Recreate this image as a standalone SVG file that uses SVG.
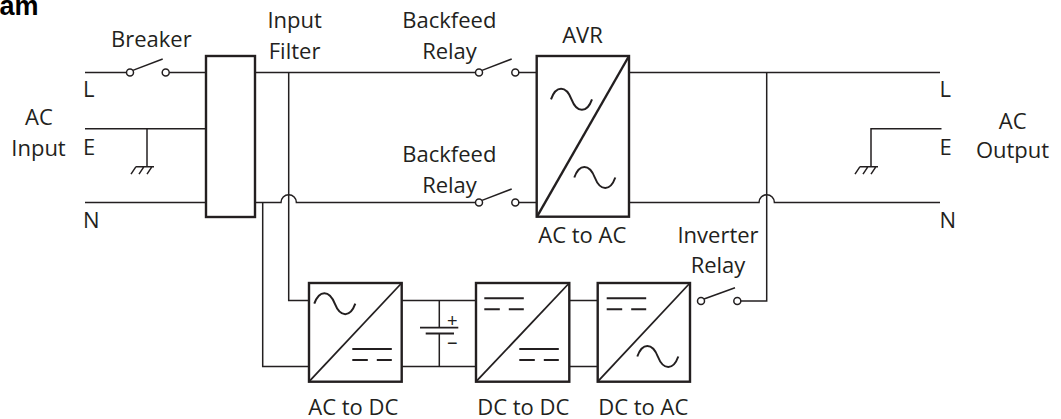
<svg xmlns="http://www.w3.org/2000/svg" width="1061" height="419" viewBox="0 0 1061 419">
<style>
.w{fill:none;stroke:#231f20;stroke-width:1.5}
.box{fill:#fff;stroke:#231f20;stroke-width:2.4}
.diag{fill:none;stroke:#231f20;stroke-width:1.8}
.sym{fill:none;stroke:#231f20;stroke-width:2}
.c{fill:#fff;stroke:#231f20;stroke-width:1.5}
text{font-family:"Open Sans","Noto Sans","Liberation Sans",sans-serif;font-size:22px;fill:#231f20}
.m{text-anchor:middle}
.t{font-family:"Liberation Sans",Arial,sans-serif;font-weight:bold;font-size:27px;fill:#000;text-anchor:end}
.pm{font-family:"Liberation Sans",Arial,sans-serif;font-size:18px;text-anchor:middle}
</style>
<defs>
<path id="sine" d="M0,0 C5,-14 15,-14 20.5,0 C26,14 36,14 41,0"/>
<g id="dc"><path d="M0,0 H39.5 M0,11 H15.5 M24.5,11 H39.5"/></g>
<g id="gnd"><path d="M-11,0 H7 M-11,0 L-16,7.5 M-3,0 L-8,7.5 M5,0 L0,7.5"/></g>
</defs>
<text class="t" x="38.5" y="15">am</text>

<g id="connectors">
<path class="w" d="M85,72.5 H126.5 M169.2,72.5 H206"/>
<path class="w" d="M85,128.7 H206"/>
<path class="w" d="M85,202.5 H206"/>
<path class="w" d="M255,72.5 H475.5 M518.8,72.5 H536.7"/>
<path class="w" d="M255,202.5 H281 A7.7,7.7 0 0 1 296.4,202.5 H475.5 M518.8,202.5 H536.7"/>
<path class="w" d="M288.7,72.5 V300.5 H309"/>
<path class="w" d="M262.7,202.5 V366.5 H309"/>
<path class="w" d="M401.7,300.5 H476 M401.7,366.5 H476"/>
<path class="w" d="M569.3,300.5 H597.7 M569.3,366.5 H597.7"/>
<path class="w" d="M629,72.5 H940"/>
<path class="w" d="M629,202.5 H759 A7.7,7.7 0 0 1 774.4,202.5 H940"/>
<path class="w" d="M941.5,128.7 H871 V166.7"/>
<path class="w" d="M147,128.7 V166.7"/>
<path class="w" d="M740.8,301 H766.7 V72.5"/>
</g>

<g id="ground-in"><use href="#gnd" class="w" x="147" y="166.7"/></g>
<g id="ground-out"><use href="#gnd" class="w" x="871" y="166.7"/></g>

<g id="breaker">
<path class="w" d="M132.8,70.4 L162.7,59"/>
<circle class="c" cx="130" cy="72.5" r="3.5"/>
<circle class="c" cx="165.7" cy="72.5" r="3.5"/>
<text class="m" x="151.3" y="47">Breaker</text>
</g>

<g id="input-filter">
<rect class="box" x="206" y="56" width="49" height="161"/>
<text class="m" x="294.6" y="28.3">Input</text>
<text class="m" x="294.6" y="59.3">Filter</text>
</g>

<g id="backfeed-relay-l">
<path class="w" d="M482,70.4 L511.7,59"/>
<circle class="c" cx="479" cy="72.5" r="3.5"/>
<circle class="c" cx="515.3" cy="72.5" r="3.5"/>
<text class="m" x="449.3" y="28.3">Backfeed</text>
<text class="m" x="449.5" y="59.3">Relay</text>
</g>

<g id="backfeed-relay-n">
<path class="w" d="M482,200.4 L511.7,189"/>
<circle class="c" cx="479" cy="202.5" r="3.5"/>
<circle class="c" cx="515.3" cy="202.5" r="3.5"/>
<text class="m" x="449.3" y="162.3">Backfeed</text>
<text class="m" x="449.5" y="193.3">Relay</text>
</g>

<g id="avr">
<rect class="box" x="536.7" y="56" width="92.3" height="160.7"/>
<path class="w" style="stroke-width:2.4" d="M537,216.7 L629,56"/>
<use href="#sine" class="sym" x="551" y="99.3"/>
<use href="#sine" class="sym" x="574.3" y="177.5"/>
<text class="m" x="582.5" y="43.3">AVR</text>
<text class="m" x="582.3" y="242.7">AC to AC</text>
</g>

<g id="ac-dc">
<rect class="box" x="309" y="283" width="92.7" height="98.7"/>
<path class="diag" d="M309,381.7 L401.7,283"/>
<use href="#sine" class="sym" x="314.3" y="303.7"/>
<use href="#dc" class="sym" x="352.3" y="349"/>
<text class="m" x="353.3" y="414.5">AC to DC</text>
</g>

<g id="battery">
<path class="w" d="M439.3,300.5 V327.7 M439.3,333.5 V366.5"/>
<path class="w" style="stroke-width:1.8" d="M420,327.7 H458.3 M425.7,333.5 H454"/>
<text class="pm" x="452.3" y="326.8">+</text>
<text class="pm" x="452.3" y="348.7">−</text>
</g>

<g id="dc-dc">
<rect class="box" x="476" y="283" width="93.3" height="98.7"/>
<path class="diag" d="M476,381.7 L569.3,283"/>
<use href="#dc" class="sym" x="484.3" y="298.3"/>
<use href="#dc" class="sym" x="519.3" y="349"/>
<text class="m" x="523.3" y="414.5">DC to DC</text>
</g>

<g id="dc-ac">
<rect class="box" x="597.7" y="283" width="92.3" height="98.7"/>
<path class="diag" d="M597.7,381.7 L690,283"/>
<use href="#dc" class="sym" x="606.7" y="298.3"/>
<use href="#sine" class="sym" x="637.3" y="356.5"/>
<text class="m" x="643.3" y="414.5">DC to AC</text>
</g>

<g id="inverter-relay">
<path class="w" d="M704,299 L735,287.7"/>
<circle class="c" cx="701" cy="301" r="3.5"/>
<circle class="c" cx="737.3" cy="301" r="3.5"/>
<text class="m" x="718" y="242.7">Inverter</text>
<text class="m" x="718" y="273.3">Relay</text>
</g>

<g id="ac-input">
<text x="83" y="96.7">L</text>
<text x="83" y="155">E</text>
<text x="83" y="228.3">N</text>
<text class="m" x="39" y="125">AC</text>
<text class="m" x="38.5" y="155.7">Input</text>
</g>

<g id="ac-output">
<text x="939.5" y="96.7">L</text>
<text x="939.5" y="155">E</text>
<text x="939.5" y="228.3">N</text>
<text class="m" x="1012.7" y="129.3">AC</text>
<text class="m" x="1012.5" y="158.3">Output</text>
</g>
</svg>
